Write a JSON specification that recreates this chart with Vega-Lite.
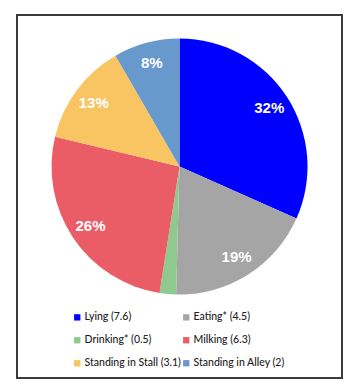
{
  "$schema": "https://vega.github.io/schema/vega-lite/v6.json",
  "width": 325,
  "height": 363,
  "autosize": "none",
  "padding": {"left": 17, "top": 15, "right": 14, "bottom": 14},
  "background": "white",
  "view": {"stroke": "#3a3a3a", "strokeWidth": 2},
  "data": {
    "values": [
      {"activity": "Lying (7.6)", "hours": 7.6, "ord": 1, "pct": "32%"},
      {"activity": "Eating* (4.5)", "hours": 4.5, "ord": 2, "pct": "19%"},
      {"activity": "Drinking* (0.5)", "hours": 0.5, "ord": 3, "pct": ""},
      {"activity": "Milking (6.3)", "hours": 6.3, "ord": 4, "pct": "26%"},
      {"activity": "Standing in Stall (3.1)", "hours": 3.1, "ord": 5, "pct": "13%"},
      {"activity": "Standing in Alley (2)", "hours": 2, "ord": 6, "pct": "8%"}
    ]
  },
  "encoding": {
    "theta": {"field": "hours", "type": "quantitative", "stack": true},
    "order": {"field": "ord", "type": "quantitative"}
  },
  "layer": [
    {
      "mark": {"type": "arc", "outerRadius": 128, "y": {"expr": "height*0.4175"}},
      "encoding": {
        "color": {
          "field": "activity",
          "type": "nominal",
          "sort": null,
          "scale": {
            "domain": ["Lying (7.6)", "Eating* (4.5)", "Drinking* (0.5)", "Milking (6.3)", "Standing in Stall (3.1)", "Standing in Alley (2)"],
            "range": ["#0000FF", "#A5A5A5", "#8FC98E", "#EA5C66", "#F8C562", "#6799CC"]
          },
          "legend": {
            "title": null,
            "orient": "none",
            "legendX": 55,
            "legendY": 297,
            "columns": 2,
            "direction": "horizontal",
            "symbolType": "square",
            "symbolSize": 40,
            "symbolStrokeWidth": 0,
            "labelFont": "Lato",
            "labelFontSize": 10.5,
            "labelFontWeight": 500,
            "labelColor": "#222222",
            "labelOffset": 2,
            "columnPadding": 0,
            "rowPadding": 12,
            "padding": 0
          }
        }
      }
    },
    {
      "mark": {
        "type": "text",
        "radius": 107,
        "y": {"expr": "height*0.4175"},
        "font": "Liberation Sans",
        "fontSize": 15,
        "fontWeight": "bold",
        "color": "white",
        "align": "center",
        "baseline": "middle"
      },
      "encoding": {
        "text": {"field": "pct", "type": "nominal"}
      }
    }
  ]
}
